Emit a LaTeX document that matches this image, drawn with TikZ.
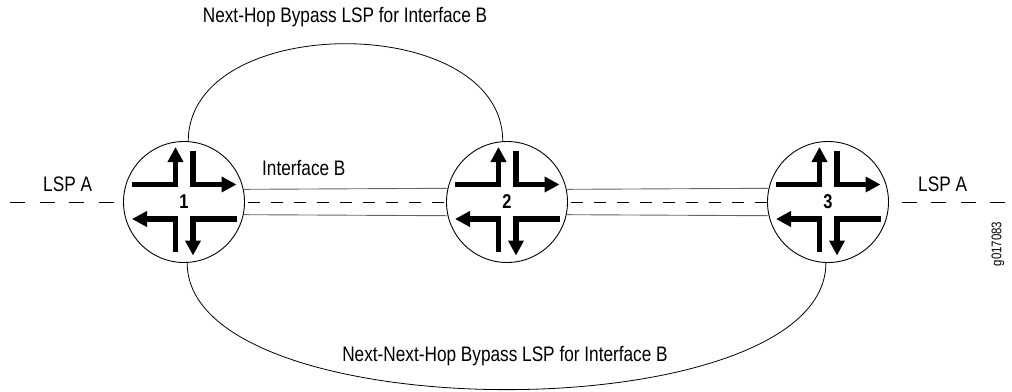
\documentclass[tikz,border=0pt]{standalone}
\usepackage{fontspec}
\setmainfont{Liberation Sans}[FakeStretch=0.82]
\usetikzlibrary{arrows.meta}

\definecolor{linkgray}{gray}{0.4}

\tikzset{
  router/.style={draw, circle, minimum size=121pt, inner sep=0pt, line width=0.9pt,
    font=\fontsize{20}{20}\selectfont\bfseries},
  flow/.style={line width=5.5pt, line join=miter, -{Triangle[length=15pt,width=15pt]}},
  link/.style={draw=linkgray, line width=0.9pt},
  lsp/.style={line width=0.9pt, dash pattern=on 15pt off 14.5pt},
  hop/.style={line width=0.9pt, dash pattern=on 12pt off 11pt, dash phase=19.5pt},
  bypass/.style={line width=0.8pt},
  tag/.style={font=\fontsize{21}{21}\selectfont, inner sep=0pt}
}

\begin{document}
\begin{tikzpicture}[x=1pt, y=-1pt]

\useasboundingbox (0,0) rectangle (1012,391);

% routers
\foreach \r/\x in {1/184, 2/507, 3/828} {
  \node[router] (r\r) at (\x,202) {\r};
  \begin{scope}[shift={(r\r.center)}]
    \draw[flow] (-52,-17.5) -- (-8.5,-17.5) -- (-8.5,-55);
    \draw[flow] (9,-51.5) -- (9,-17.5) -- (52.5,-17.5);
    \draw[flow] (-8.5,50) -- (-8.5,17) -- (-52,17);
    \draw[flow] (52.5,17) -- (9,17) -- (9,53.5);
  \end{scope}
}

% interface links
\draw[link] (r1.12.4) -- (r2.167.6);
\draw[link] (r1.-12.4) -- (r2.-167.6);
\draw[link] (r2.12.4) -- (r3.167.6);
\draw[link] (r2.-12.4) -- (r3.-167.6);

% LSP A
\coordinate (lspin) at (10,202);
\coordinate (lspout) at (1005,202);
\draw[lsp] (lspin) -- (r1.west);
\draw[lsp] (lspout) -- (r3.east);
\draw[hop] (r1.east) -- (r2.west);
\draw[hop] (r2.east) -- (r3.west);

% bypass LSPs
\draw[bypass] (r1.86) .. controls +(0,-130) and +(0,-130) .. (r2.94);
\draw[bypass] (r1.-87) .. controls +(0,169) and +(0,169) .. (r3.-92);

% labels
\node[tag, anchor=base] (nhop) at (345,22) {Next-Hop Bypass LSP for Interface B};
\node[tag, anchor=base] (nnhop) at (505,361) {Next-Next-Hop Bypass LSP for Interface B};
\node[tag, anchor=base west] (ifb) at (262,175) {Interface B};
\node[tag, anchor=base west] (lspa) at (43,191.5) {LSP A};
\node[tag, anchor=base west] (lspb) at (918,191.5) {LSP A};
\node[font=\fontsize{14}{14}\selectfont, inner sep=0pt, rotate=90] (fig) at (998,244) {g017083};

\end{tikzpicture}
\end{document}
